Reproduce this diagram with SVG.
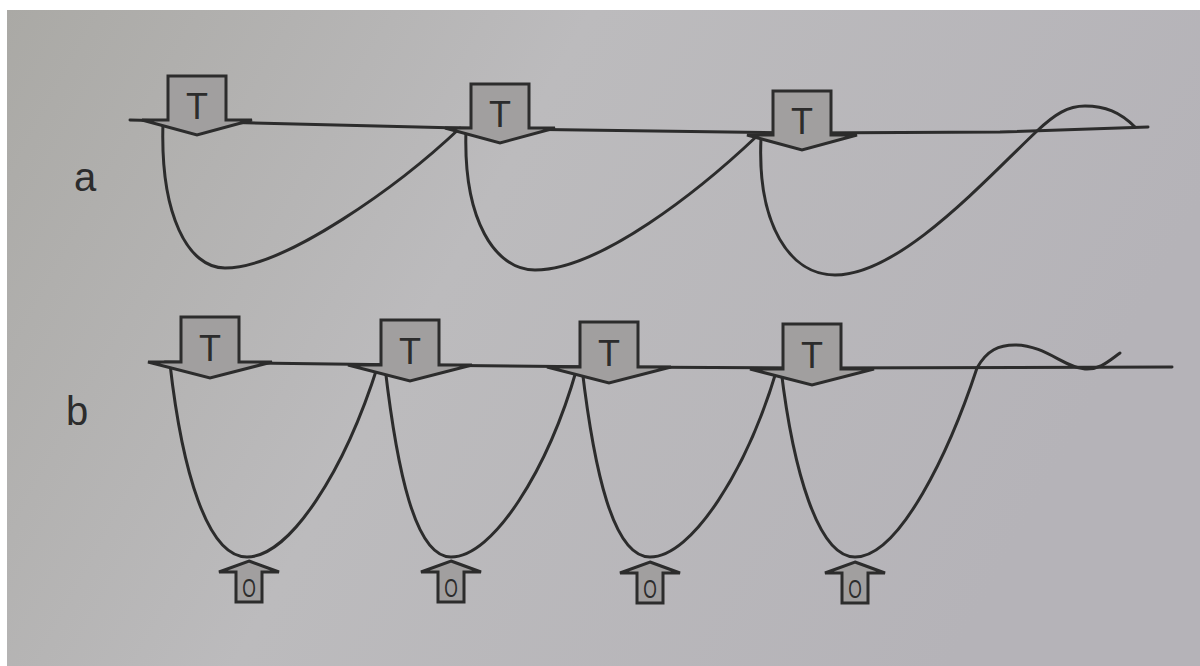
<svg xmlns="http://www.w3.org/2000/svg" width="1200" height="666" viewBox="0 0 1200 666">
<defs>
<linearGradient id="bg" x1="0" y1="0" x2="1" y2="0.3">
<stop offset="0" stop-color="#aaa9a5"/>
<stop offset="0.45" stop-color="#bcbbbd"/>
<stop offset="1" stop-color="#b5b3b8"/>
</linearGradient>
<path id="tArrow" d="M-29,-59 H29 V-15 H55 L0,0 L-55,-15 H-29 Z"/>
<path id="tArrowB" d="M-29,-61 H29 V-16 H62 L0,0 L-62,-16 H-29 Z"/>
<path id="oArrow" d="M0,0 L30,11 H13 V41 H-13 V11 H-30 Z"/>
</defs>
<style>
.ln{fill:none;stroke:#2c2c2c;stroke-width:3;stroke-linecap:round;stroke-linejoin:round}
.ar{fill:#a19f9f;stroke:#2c2c2c;stroke-width:3;stroke-linejoin:miter}
.lt{font-family:"Liberation Sans",Arial,sans-serif;fill:#2c2c2c;text-anchor:middle}
.t{font-size:36px}
.o{font-size:25px}
.lab{font-family:"Liberation Sans",Arial,sans-serif;fill:#2c2c2c;font-size:40px}
</style>
<rect x="0" y="0" width="1200" height="666" fill="#ffffff"/>
<rect x="7" y="10" width="1193" height="656" fill="url(#bg)"/>

<g id="connectors">
<path class="ln" d="M130,120 L500,129 L802,133 L1000,132 L1148,127"/>
<path class="ln" d="M163,123 C160,215 188,268 225,268 C285,268 400,185 460,128"/>
<path class="ln" d="M466,130 C463,220 495,270 535,270 C600,270 700,190 757,136"/>
<path class="ln" d="M761,138 C757,225 790,275 835,275 C900,275 985,180 1037,131 C1055,114 1068,106 1085,106 C1105,106 1120,112 1135,127"/>
<path class="ln" d="M165,362 L410,365 L609,367 L812,368 L1172,367"/>
<path class="ln" d="M170,364 C182,470 207,557 247,557 C290,557 345,470 378,365"/>
<path class="ln" d="M385,367 C397,470 415,557 451,557 C493,557 548,470 577,368"/>
<path class="ln" d="M582,368 C594,470 613,557 650,557 C692,557 747,470 777,369"/>
<path class="ln" d="M781,369 C793,470 818,557 855,557 C900,557 950,450 977,368 C987,350 999,345 1015,345 C1045,345 1065,368 1085,369 C1100,370 1110,360 1120,353"/>
</g>

<g id="label-a"><text class="lab" x="74" y="191">a</text></g>
<g id="label-b"><text class="lab" x="66" y="425">b</text></g>

<g id="a-T1" transform="translate(197,135)"><use href="#tArrow" class="ar"/><text class="lt t" x="0" y="-16">T</text></g>
<g id="a-T2" transform="translate(500,143)"><use href="#tArrow" class="ar"/><text class="lt t" x="0" y="-16">T</text></g>
<g id="a-T3" transform="translate(802,150)"><use href="#tArrow" class="ar"/><text class="lt t" x="0" y="-16">T</text></g>

<g id="b-T1" transform="translate(210,378)"><use href="#tArrowB" class="ar"/><text class="lt t" x="0" y="-17">T</text></g>
<g id="b-T2" transform="translate(410,381)"><use href="#tArrowB" class="ar"/><text class="lt t" x="0" y="-17">T</text></g>
<g id="b-T3" transform="translate(609,383)"><use href="#tArrowB" class="ar"/><text class="lt t" x="0" y="-17">T</text></g>
<g id="b-T4" transform="translate(812,385)"><use href="#tArrowB" class="ar"/><text class="lt t" x="0" y="-17">T</text></g>

<g id="b-O1" transform="translate(249,561)"><use href="#oArrow" class="ar"/><text class="lt o" transform="scale(0.7,1)" x="0" y="36">O</text></g>
<g id="b-O2" transform="translate(451,561)"><use href="#oArrow" class="ar"/><text class="lt o" transform="scale(0.7,1)" x="0" y="36">O</text></g>
<g id="b-O3" transform="translate(650,562)"><use href="#oArrow" class="ar"/><text class="lt o" transform="scale(0.7,1)" x="0" y="36">O</text></g>
<g id="b-O4" transform="translate(855,562)"><use href="#oArrow" class="ar"/><text class="lt o" transform="scale(0.7,1)" x="0" y="36">O</text></g>
</svg>
